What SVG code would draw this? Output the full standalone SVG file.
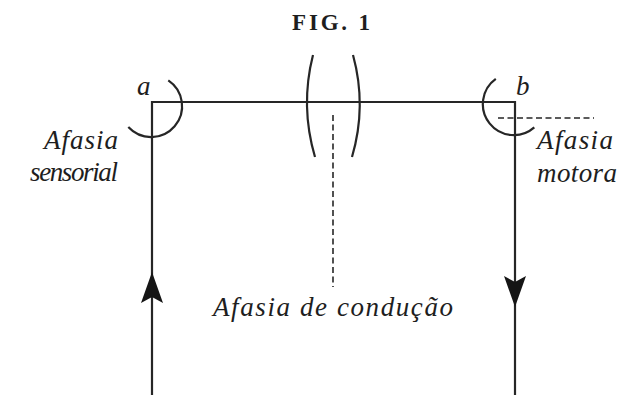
<svg xmlns="http://www.w3.org/2000/svg" width="625" height="395" viewBox="0 0 625 395">
<style>
.ln{fill:none;stroke:#262626;stroke-width:2.2}
.dash{fill:none;stroke:#262626;stroke-width:1.6;stroke-dasharray:6 3.5}
.it{font-family:"Liberation Serif","Times New Roman",serif;font-style:italic;font-size:27px;fill:#1e1e1e}
.title{font-family:"Liberation Serif","Times New Roman",serif;font-weight:bold;font-size:23px;fill:#1e1e1e}
.head{fill:#151515}
</style>
<defs>
<path id="arrowUp" class="head" d="M0,0 L11,31 L0,25 L-11,31 Z"/>
</defs>
<rect width="625" height="395" fill="#ffffff"/>
<text class="title" x="292" y="30" textLength="78" lengthAdjust="spacing">FIG. 1</text>
<g id="connectors">
<path class="ln" d="M152,395 L152,102 L515,102 L515,395"/>
<use href="#arrowUp" transform="translate(152,272)"/>
<use href="#arrowUp" transform="translate(515,307) rotate(180)"/>
</g>
<g id="node-a">
<path class="ln" d="M168.3,80.3 A31,31 0 1 1 128.3,127.1"/>
<text class="it" x="137" y="95">a</text>
<text class="it" x="44" y="149" textLength="74" lengthAdjust="spacing">Afasia</text>
<text class="it" x="30" y="181" textLength="88" lengthAdjust="spacing">sensorial</text>
</g>
<g id="node-b">
<path class="ln" d="M495.8,78.9 A31,31 0 1 0 534.3,127.4"/>
<text class="it" x="516" y="95">b</text>
<path class="dash" d="M498,118 L594,118"/>
<text class="it" x="537" y="149" textLength="76" lengthAdjust="spacing">Afasia</text>
<text class="it" x="537" y="182" textLength="80" lengthAdjust="spacing">motora</text>
</g>
<g id="node-conducao">
<path class="ln" d="M313,55 Q300,106 315,157"/>
<path class="ln" d="M353,55 Q367,106 352,157"/>
<path class="dash" d="M333,115 L333,287"/>
<text class="it" x="213" y="316" textLength="240" lengthAdjust="spacing">Afasia de condução</text>
</g>
</svg>
